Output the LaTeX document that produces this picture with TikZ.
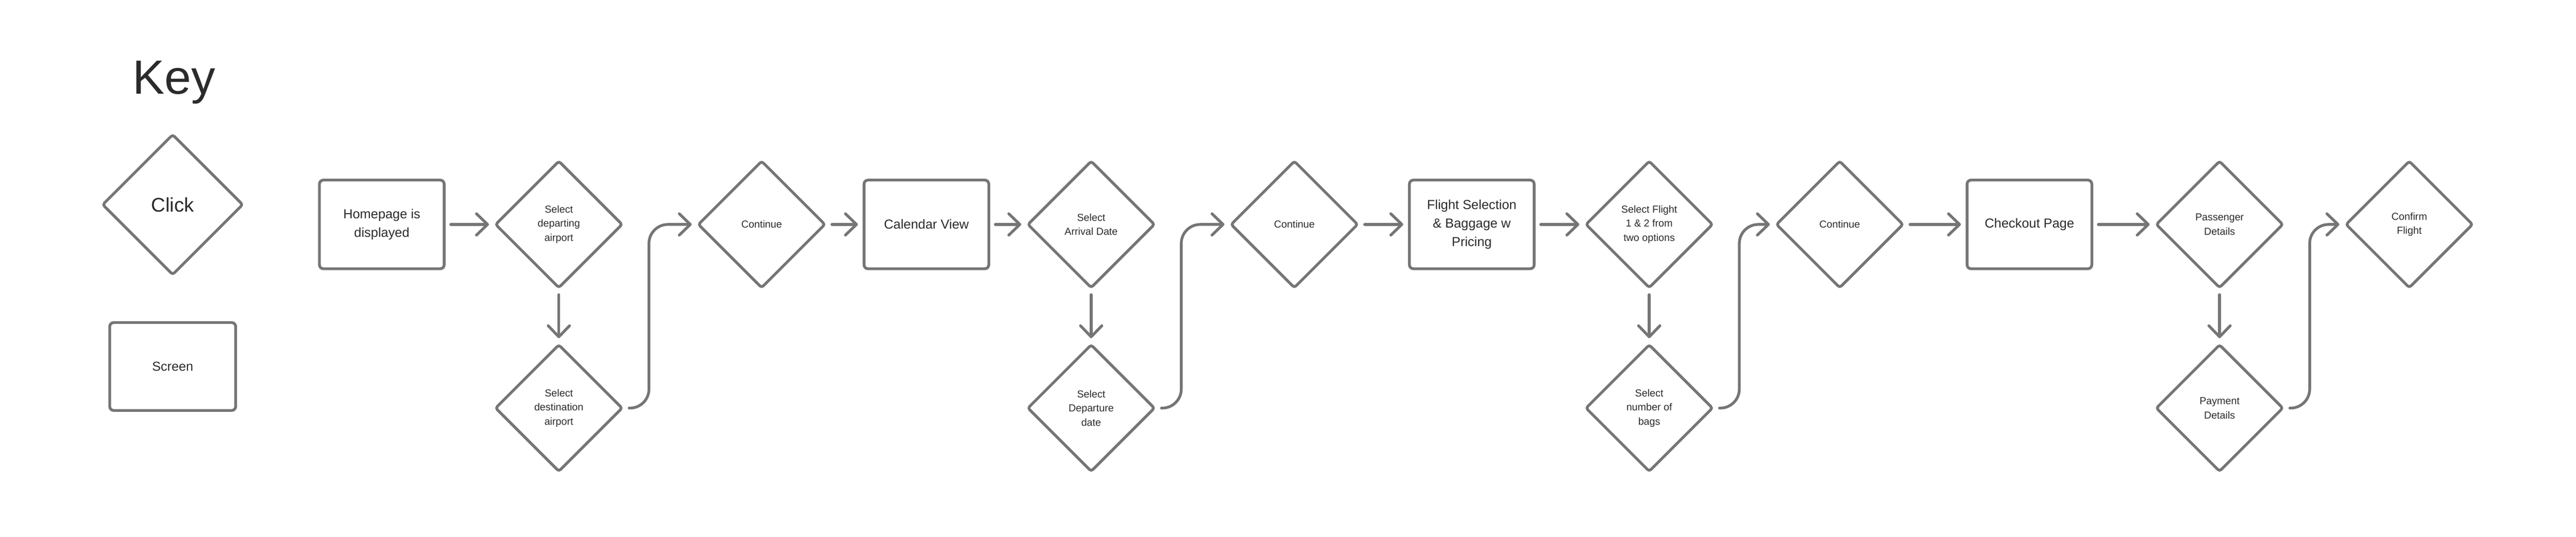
\documentclass[tikz,border=0pt]{standalone}
\usepackage{fontspec}
\setmainfont{Liberation Sans}
\usepackage{tikz}
\usetikzlibrary{shapes.geometric,arrows.meta,calc,positioning}
\definecolor{linegray}{HTML}{757575}
\definecolor{textgray}{HTML}{2B2B2B}
\tikzstyle{screen} = [rectangle, draw=linegray, line width=0.07cm, rounded corners=0.1cm, text centered, align=center, text=textgray, minimum width=3.15cm, minimum height=2.24cm, font=\fontsize{9.4}{13.4}\selectfont]
\tikzstyle{click} = [diamond, draw=linegray, line width=0.07cm, rounded corners=0.06cm, text centered, align=center, text=textgray, minimum width=3.22cm, minimum height=3.22cm, inner sep=0pt, font=\fontsize{7.3}{10.2}\selectfont]
\tikzstyle{connector} = [line width=0.07cm, draw=linegray, line cap=round, -{Straight Barb[length=0.28cm,width=0.54cm,round]}, shorten <=0.13cm, shorten >=0.12cm]

\begin{document}
\begin{tikzpicture}
        \fill [white] (0,0) rectangle (65.04,-13.56);
        \useasboundingbox (0,0) rectangle (65.04,-13.56);
        % key
        \node (key) [anchor=base west, text=textgray, font=\fontsize{34.5}{40}\selectfont] at (3.22,-2.38) {Key};
        \node (key-click) [click, minimum width=3.56cm, minimum height=3.56cm, font=\fontsize{14.2}{16}\selectfont] at (4.36,-5.17) {Click};
        \node (key-screen) [screen, minimum width=3.18cm, minimum height=2.22cm, font=\fontsize{9.3}{12}\selectfont] at (4.36,-9.26) {Screen};
        % top row
        \node (home) [screen] at (9.64,-5.67) {Homepage is\\displayed};
        \node (depart) [click, right of = home, xshift=3.47cm] {Select\\departing\\airport};
        \node (cont1) [click, right of = depart, xshift=4.12cm] {Continue};
        \node (calendar) [screen, right of = cont1, xshift=3.16cm] {Calendar View};
        \node (arrival) [click, right of = calendar, xshift=3.16cm] {Select\\Arrival Date};
        \node (cont2) [click, right of = arrival, xshift=4.13cm] {Continue};
        \node (flights) [screen, right of = cont2, xshift=3.48cm] {Flight Selection\\\& Baggage w\\Pricing};
        \node (pick) [click, right of = flights, xshift=3.48cm] {Select Flight\\1 \& 2 from\\two options};
        \node (cont3) [click, right of = pick, xshift=3.81cm] {Continue};
        \node (checkout) [screen, right of = cont3, xshift=3.79cm] {Checkout Page};
        \node (passenger) [click, right of = checkout, xshift=3.8cm] {Passenger\\Details};
        \node (confirm) [click, right of = passenger, xshift=3.79cm] {Confirm\\Flight};
        % bottom row
        \node (dest) [click, below of = depart, yshift=-3.64cm] {Select\\destination\\airport};
        \node (departure) [click, below of = arrival, yshift=-3.64cm] {Select\\Departure\\date};
        \node (bags) [click, below of = pick, yshift=-3.64cm] {Select\\number of\\bags};
        \node (payment) [click, below of = passenger, yshift=-3.64cm] {Payment\\Details};
        % connectors
        \draw [connector] (home) -- (depart);
        \draw [connector] (depart) -- (dest);
        \draw [connector, rounded corners=0.48cm] (dest.east) -- ++(0.63,0) |- (cont1.west);
        \draw [connector] (cont1) -- (calendar);
        \draw [connector] (calendar) -- (arrival);
        \draw [connector] (arrival) -- (departure);
        \draw [connector, rounded corners=0.48cm] (departure.east) -- ++(0.63,0) |- (cont2.west);
        \draw [connector] (cont2) -- (flights);
        \draw [connector] (flights) -- (pick);
        \draw [connector] (pick) -- (bags);
        \draw [connector, rounded corners=0.48cm] (bags.east) -- ++(0.63,0) |- (cont3.west);
        \draw [connector] (cont3) -- (checkout);
        \draw [connector] (checkout) -- (passenger);
        \draw [connector] (passenger) -- (payment);
        \draw [connector, rounded corners=0.48cm] (payment.east) -- ++(0.63,0) |- (confirm.west);
    \end{tikzpicture}
\end{document}
